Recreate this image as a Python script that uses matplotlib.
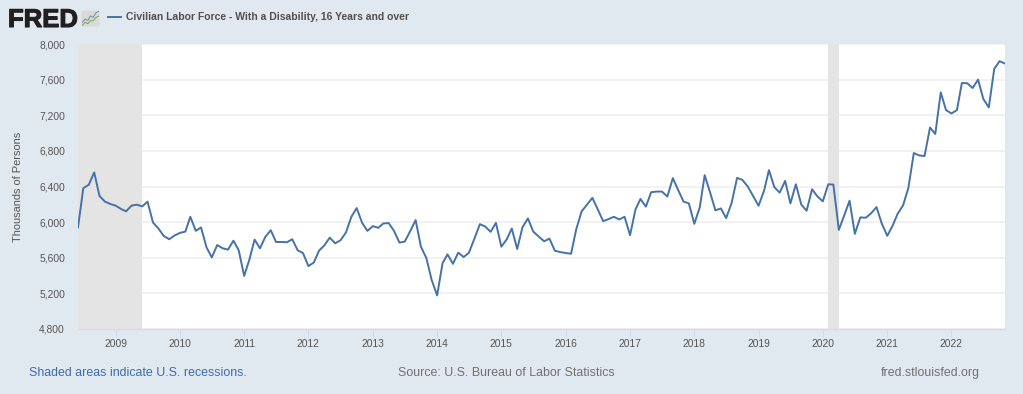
"""
FRED chart: civilian labor force with a disability, monthly.
"""

import pandas as pd
import matplotlib
matplotlib.use("Agg")
import matplotlib.pyplot as plt
import matplotlib.patheffects as pe
from matplotlib.patches import FancyBboxPatch

start_month = "2008-06-01"
labor_force = [
    5940, 6381, 6419, 6559, 6294, 6230, 6204,
    6185, 6147, 6121, 6185, 6196, 6177, 6230, 5996, 5928, 5845, 5808, 5849,
    5879, 5894, 6060, 5902, 5940, 5717, 5604, 5743, 5706, 5691, 5792, 5683,
    5396, 5589, 5804, 5706, 5834, 5909, 5777, 5777, 5774, 5808, 5683, 5653,
    5506, 5547, 5679, 5740, 5826, 5762, 5796, 5883, 6060, 6158, 5992, 5902,
    5955, 5936, 5985, 5989, 5902, 5770, 5781, 5898, 6023, 5724, 5596, 5351,
    5177, 5540, 5638, 5532, 5657, 5608, 5657, 5815, 5977, 5951, 5891, 5992,
    5724, 5808, 5928, 5698, 5943, 6042, 5894, 5838, 5785, 5815, 5679, 5664,
    5653, 5645, 5917, 6121, 6196, 6272, 6147, 6011, 6034, 6060, 6030, 6060,
    5853, 6143, 6260, 6174, 6336, 6343, 6343, 6287, 6494, 6362, 6230, 6211,
    5981, 6166, 6527, 6331, 6132, 6154, 6045, 6215, 6497, 6474, 6399, 6294,
    6184, 6350, 6584, 6392, 6331, 6463, 6211, 6425, 6196, 6128, 6369, 6290,
    6233, 6425, 6422, 5913, 6072, 6241, 5868, 6053, 6049, 6098, 6169, 5985,
    5846, 5962, 6094, 6188, 6384, 6776, 6749, 6742, 7062, 6990, 7457, 7258,
    7220, 7258, 7562, 7559, 7506, 7600, 7382, 7288, 7721, 7807, 7781,
]
recessions = [("2008-06-01", "2009-06-01"), ("2020-02-01", "2020-04-01")]
year_ticks = list(range(2009, 2023))
value_ticks = [4800, 5200, 5600, 6000, 6400, 6800, 7200, 7600, 8000]
series_name = "Civilian Labor Force - With a Disability, 16 Years and over"

# little chart inside the logo badge
icon_blue = [1, 3, 2, 5, 4, 7, 8]
icon_green = [0, 2, 1, 3, 3, 5, 6]

W, H = 1023, 394
BG = "#e1e9f0"
LINE = "#4572a7"
TEXT = "#555555"

plt.rcParams["font.family"] = ["Liberation Sans", "DejaVu Sans"]

dates = pd.date_range(start_month, periods=len(labor_force), freq="MS")

fig = plt.figure(figsize=(W / 100, H / 100), dpi=100, facecolor=BG)
ax = fig.add_axes([78 / W, 1 - 329 / H, 927 / W, 285 / H])

for begin, end in recessions:
    ax.axvspan(pd.Timestamp(begin), pd.Timestamp(end), color="#e4e4e4", lw=0, zorder=2)
ax.plot(dates, labor_force, color=LINE, lw=1.4, zorder=3)

ax.set_xlim(dates[0], dates[-1])
ax.set_ylim(4800, 8000)
ax.set_yticks(value_ticks)
ax.set_yticklabels([f"{v:,}" for v in value_ticks])
ax.set_xticks([pd.Timestamp(f"{y}-01-01") for y in year_ticks])
ax.set_xticklabels([str(y) for y in year_ticks])
ax.grid(axis="y", color="#f0f0f0", lw=1.3, zorder=1)
ax.set_axisbelow(True)
for side in ["top", "right", "left"]:
    ax.spines[side].set_visible(False)
ax.spines["bottom"].set_color("#d0dcee")
ax.spines["bottom"].set_linewidth(1)
ax.tick_params(axis="y", length=0, pad=9.4, labelsize=7.4, labelcolor=TEXT)
ax.tick_params(axis="x", length=5.8, width=0.7, color="#d0dcee", pad=1.2,
               labelsize=7.4, labelcolor=TEXT)

fig.text(18 / W, 1 - 187 / H, "Thousands of Persons", rotation=90, ha="center",
         va="center", fontsize=7.9, color=TEXT)

# header
logo = fig.text(8 / W, 1 - 27 / H, "FRED", fontsize=18.5, fontweight="bold", color="#231f20",
                ha="left", va="baseline")
logo.set_path_effects([pe.withStroke(linewidth=0.8, foreground="#231f20")])
badge = fig.add_axes([81 / W, 1 - 27 / H, 19 / W, 17 / H])
badge.axis("off")
badge.set_xlim(0, 1)
badge.set_ylim(0, 1)
badge.add_patch(FancyBboxPatch((0.03, 0.03), 0.94, 0.94, boxstyle="round,pad=0,rounding_size=0.1",
                               fc="#d9d9d6", ec="none"))
icon_x = [0.08 + 0.14 * i for i in range(len(icon_blue))]
badge.plot(icon_x, [0.2 + v * 0.09 for v in icon_blue], color="#6d8fb5", lw=0.7)
badge.plot(icon_x, [0.1 + v * 0.09 for v in icon_green], color="#7ea04d", lw=0.7)

fig.add_artist(plt.Line2D([108 / W, 121 / W], [1 - 17 / H, 1 - 17 / H], color=LINE, lw=1.4))
fig.text(126 / W, 1 - 17.5 / H, series_name, fontsize=7.5, fontweight="bold", color="#505050",
         ha="left", va="center")

# footer
fig.text(29 / W, 1 - 373 / H, "Shaded areas indicate U.S. recessions.", fontsize=8.9,
         color="#3d6ca8", ha="left", va="center")
fig.text(398 / W, 1 - 373 / H, "Source: U.S. Bureau of Labor Statistics", fontsize=8.9,
         color="#707070", ha="left", va="center")
fig.text(980 / W, 1 - 373 / H, "fred.stlouisfed.org", fontsize=8.9,
         color="#707070", ha="right", va="center")

fig.savefig("out.png", dpi=100, facecolor=BG)
